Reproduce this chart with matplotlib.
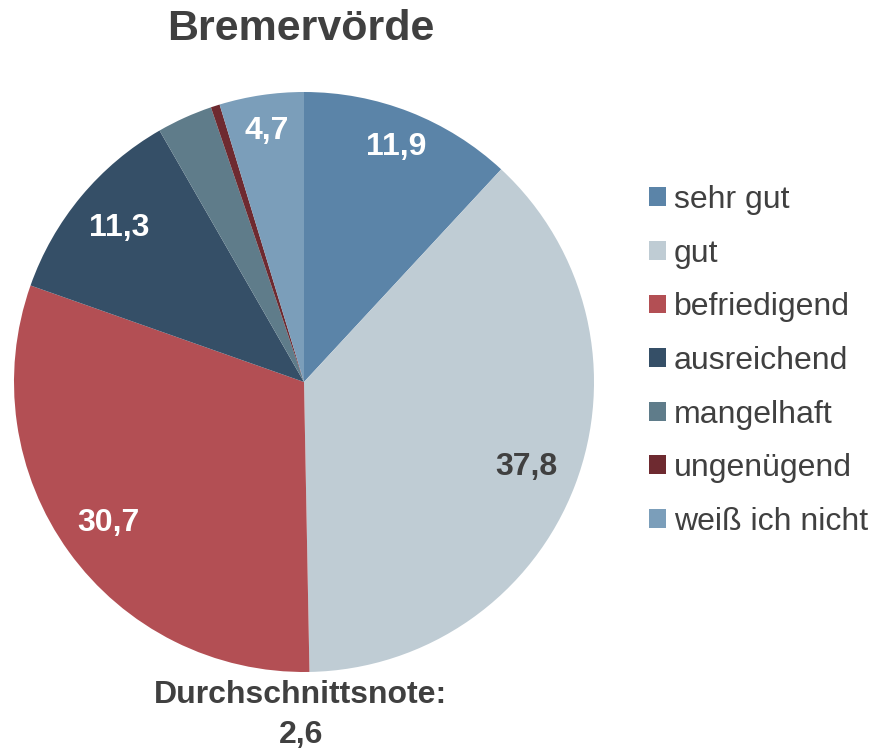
import matplotlib.pyplot as plt
import numpy as np

plt.rcParams['font.family'] = ['Liberation Sans', 'DejaVu Sans']

noten = ['sehr gut', 'gut', 'befriedigend', 'ausreichend', 'mangelhaft', 'ungenügend', 'weiß ich nicht']
anteile = [11.9, 37.8, 30.7, 11.3, 3.1, 0.5, 4.7]
beschriftet = [True, True, True, True, False, False, True]
farben = ['#5B84A8', '#BFCCD4', '#B34F54', '#354F67', '#5F7C8A', '#6E2A30', '#7B9EBA']
textfarben = ['white', '#404040', 'white', 'white', 'white', 'white', 'white']
abstand = [0.87, 0.82, 0.83, 0.83, 0.8, 0.8, 0.875]
titel = 'Bremervörde'
schnitt = 'Durchschnittsnote:\n2,6'

grau = '#404040'
fig = plt.figure(figsize=(8.69, 7.52), dpi=100)
ax = fig.add_axes([14 / 869, 80 / 752, 580 / 869, 580 / 752])

wedges, _ = ax.pie(anteile, colors=farben, startangle=90, counterclock=False,
                   radius=1.0, wedgeprops=dict(linewidth=0))
ax.set_xlim(-1, 1)
ax.set_ylim(-1, 1)
ax.set_aspect('equal')
ax.axis('off')

for w, v, zeigen, tf, d in zip(wedges, anteile, beschriftet, textfarben, abstand):
    if not zeigen:
        continue
    mitte = np.deg2rad((w.theta1 + w.theta2) / 2)
    ax.text(d * np.cos(mitte), d * np.sin(mitte), f'{v:.1f}'.replace('.', ','),
            ha='center', va='center', fontsize=23, fontweight='bold', color=tf)

fig.text(0.346, 1 - 29 / 752, titel, ha='center', va='center', fontsize=31,
         fontweight='bold', color=grau)
fig.text(0.346, 1 - 695 / 752, 'Durchschnittsnote:', ha='center', va='center',
         fontsize=23, fontweight='bold', color=grau)
fig.text(0.346, 1 - 735 / 752, '2,6', ha='center', va='center',
         fontsize=23, fontweight='bold', color=grau)

leg = fig.legend(wedges, noten, loc='upper left', bbox_to_anchor=(649 / 869, 1 - 185 / 752),
                 frameon=False, fontsize=23, labelcolor=grau, handlelength=0.53,
                 handleheight=0.53, handletextpad=0.25, labelspacing=0.74,
                 borderpad=0, borderaxespad=0)

fig.savefig('out.png', dpi=100)
